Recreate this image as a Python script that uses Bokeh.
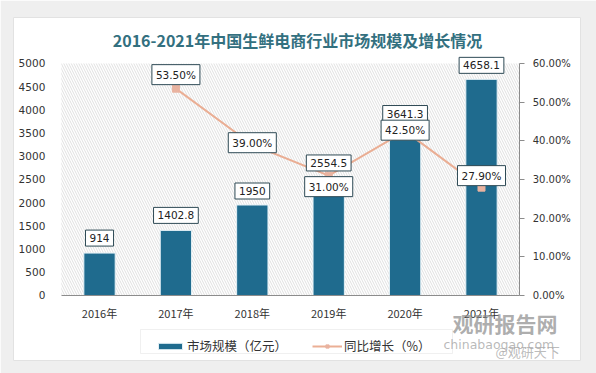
from bokeh.plotting import figure
from bokeh.models import (Range1d, LinearAxis, SingleIntervalTicker, FixedTicker,
                          PrintfTickFormatter, Label, Legend, LegendItem, BoxAnnotation)
from bokeh.embed import file_html
from bokeh.resources import INLINE

# ---- data ----
years = ["2016年", "2017年", "2018年", "2019年", "2020年", "2021年"]
market_size = [914, 1402.8, 1950, 2554.5, 3641.3, 4658.1]
market_labels = ["914", "1402.8", "1950", "2554.5", "3641.3", "4658.1"]
growth_years = ["2017年", "2018年", "2019年", "2020年", "2021年"]
growth = [53.5, 39.0, 31.0, 42.5, 27.9]
growth_labels = ["53.50%", "39.00%", "31.00%", "42.50%", "27.90%"]
title_text = "2016-2021年中国生鲜电商行业市场规模及增长情况"
legend_bar = "市场规模（亿元）"
legend_line = "同比增长（%）"
watermark = ["观研报告网", "chinabaogao.com", "@观研天下"]

BAR = "#1f6b8e"
LINE = "#e9a68a"
TXT = "#333333"
FONT = "DejaVu Sans"
CJK = "Noto Sans CJK SC"

# category positions on a numeric axis (derived from the category list)
xs = list(range(len(years)))
gx = [years.index(y) for y in growth_years]

# the frame is the whole white card; axes are pinned inside it with fixed_location
p = figure(width=596, height=373, x_range=Range1d(-1.126, 6.296),
           y_range=Range1d(-1401, 5991), output_backend="svg", toolbar_location=None,
           min_border_left=13, min_border_right=16, min_border_top=17, min_border_bottom=13,
           x_axis_location=None, y_axis_location=None)
p.background_fill_color = "white"
p.border_fill_color = "#efefef"
p.outline_line_color = "#e2e2e2"
p.xgrid.visible = False
p.ygrid.visible = False
p.extra_y_ranges = {"pct": Range1d(-16.81, 71.90)}

# hatched plot area
p.add_layout(BoxAnnotation(left=-0.5, right=5.5, bottom=0, top=5000,
                           fill_color=None, line_color=None, hatch_pattern="\\",
                           hatch_color="#d2d2d2", hatch_scale=5, hatch_weight=0.7,
                           level="underlay"))

# left axis
ya = LinearAxis(ticker=SingleIntervalTicker(interval=500), bounds=(0, 5000),
                fixed_location=-0.5)
ya.axis_line_color = None
ya.major_tick_line_color = None
ya.minor_tick_line_color = None
ya.major_tick_out = 0
ya.major_tick_in = 0
ya.major_label_standoff = 12
ya.major_label_text_font = FONT
ya.major_label_text_font_size = "10.5px"
ya.major_label_text_color = TXT
p.add_layout(ya, "left")

# bottom axis
xa = LinearAxis(ticker=FixedTicker(ticks=xs), bounds=(-0.5, 5.5), fixed_location=0,
                major_label_overrides={i: y for i, y in zip(xs, years)})
xa.axis_line_color = "#8c8c8c"
xa.major_tick_line_color = None
xa.minor_tick_line_color = None
xa.major_tick_out = 0
xa.major_tick_in = 0
xa.major_label_standoff = 10
xa.major_label_text_font = CJK
xa.major_label_text_font_size = "11px"
xa.major_label_text_color = TXT
p.add_layout(xa, "below")

# right axis
ra = LinearAxis(y_range_name="pct", ticker=SingleIntervalTicker(interval=10),
                formatter=PrintfTickFormatter(format="%.2f%%"), bounds=(0, 60),
                fixed_location=5.5)
ra.axis_line_color = "#8c8c8c"
ra.major_tick_line_color = "#8c8c8c"
ra.minor_tick_line_color = None
ra.major_tick_out = 5
ra.major_tick_in = 0
ra.major_label_standoff = 8
ra.major_label_text_font = FONT
ra.major_label_text_font_size = "10px"
ra.major_label_text_color = TXT
p.add_layout(ra, "right")

# bars
bars = p.vbar(x=xs, top=market_size, width=0.41, fill_color=BAR,
              line_color="#e3f0f6", line_width=1)

# growth line
ln = p.line(x=gx, y=growth, y_range_name="pct", line_color=LINE,
            line_width=2, line_alpha=0.9)
mk = p.scatter(x=gx, y=growth, y_range_name="pct", marker="square",
               size=7, fill_color="#e9b3a0", line_color="#e9b3a0")

# data labels
bar_off = [15, 15, 14, 14, 13, 14]
for x, v, t, off in zip(xs, market_size, market_labels, bar_off):
    p.add_layout(Label(x=x, y=v, text=t, y_offset=off, text_align="center",
                       text_baseline="middle", text_font=FONT, text_font_size="10.5px",
                       text_color="#222222", background_fill_color="white",
                       border_line_color="#2e4a55", border_line_width=1, padding=4))
g_off = [14, 2, -11, 1, 12]
for x, v, t, off in zip(gx, growth, growth_labels, g_off):
    p.add_layout(Label(x=x, y=v, y_range_name="pct", text=t, y_offset=off,
                       text_align="center", text_baseline="middle", text_font=FONT,
                       text_font_size="10.5px", text_color="#222222",
                       background_fill_color="white", border_line_color="#2e4a55",
                       border_line_width=1, padding=4))

# title (screen units relative to the card/frame, y from bottom)
p.add_layout(Label(x=284, y=321, x_units="screen", y_units="screen", text=title_text,
                   text_align="center", text_baseline="middle", text_font=CJK,
                   text_font_size="16px", text_font_style="bold", text_color="#33707f"))

# legend frame
p.add_layout(BoxAnnotation(left=127, right=439, bottom=7, top=31,
                           left_units="screen", right_units="screen",
                           bottom_units="screen", top_units="screen",
                           fill_color="white", fill_alpha=1, line_color="#cccccc",
                           line_width=1, level="annotation"))

legend = Legend(items=[LegendItem(label=legend_bar, renderers=[bars]),
                       LegendItem(label=legend_line, renderers=[ln, mk])],
                orientation="horizontal", location=(142, 5),
                glyph_width=30, glyph_height=8, label_standoff=2, spacing=25,
                padding=5, margin=0,
                label_text_font=CJK, label_text_font_size="12.5px",
                label_text_color=TXT, border_line_color=None,
                background_fill_alpha=0)
p.add_layout(legend)

# watermark
p.add_layout(Label(x=439, y=38, x_units="screen", y_units="screen", text=watermark[0],
                   text_align="left", text_baseline="middle", text_font=CJK,
                   text_font_size="21px", text_font_style="bold", text_color="#8a8a8a",
                   text_alpha=0.7))
p.add_layout(Label(x=430, y=16, x_units="screen", y_units="screen", text=watermark[1],
                   text_align="left", text_baseline="middle", text_font=FONT,
                   text_font_size="12.5px", text_color="#8a8a8a", text_alpha=0.6))
p.add_layout(Label(x=482, y=9, x_units="screen", y_units="screen", text=watermark[2],
                   text_align="left", text_baseline="middle", text_font=CJK,
                   text_font_size="13px", text_color="#aaaaaa", text_alpha=0.8))

open("out.html", "w").write(file_html(p, INLINE))
